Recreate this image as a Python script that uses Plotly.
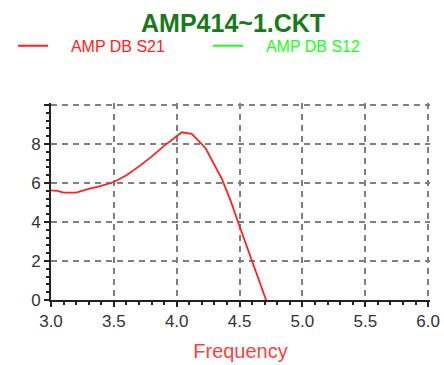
import plotly.graph_objects as go

# S21 gain (dB) vs frequency (GHz)
freq = [3.0, 3.05, 3.1, 3.2, 3.3, 3.4, 3.5, 3.6, 3.7, 3.8, 3.9, 4.0, 4.04, 4.12, 4.23, 4.36, 4.43, 4.5, 4.59, 4.72, 4.8]
s21 = [5.62, 5.6, 5.5, 5.5, 5.7, 5.85, 6.05, 6.4, 6.85, 7.35, 7.9, 8.4, 8.6, 8.52, 7.78, 6.2, 5.07, 3.78, 2.24, 0.0, -1.6]
# S12 lies below the displayed range (not visible in the plot)
freq_s12 = [None]
s12 = [None]

x_ticks = [3.0, 3.5, 4.0, 4.5, 5.0, 5.5, 6.0]
x_labels = ["3.0", "3.5", "4.0", "4.5", "5.0", "5.5", "6.0"]
y_ticks = [0, 2, 4, 6, 8, 10]
y_labels = ["0", "2", "4", "6", "8", ""]

fig = go.Figure()
fig.add_trace(go.Scatter(
    x=freq, y=s21, mode="lines",
    name="<span style='color:#ff2020'>&nbsp;&nbsp;&nbsp;&nbsp;AMP DB S21</span>",
    line=dict(color="#ff2020", width=1.8)))
fig.add_trace(go.Scatter(
    x=freq_s12, y=s12, mode="lines",
    name="<span style='color:#20ff20'>&nbsp;&nbsp;&nbsp;&nbsp;AMP DB S12</span>",
    line=dict(color="#20ff20", width=1.8)))

fig.update_layout(
    width=444, height=365,
    margin=dict(l=51, r=14, t=103, b=65),
    paper_bgcolor="white", plot_bgcolor="white",
    font=dict(family="Arial, Liberation Sans, sans-serif", size=17, color="#333333"),
    title=dict(text="<b>AMP414~1.CKT</b>", x=0.525, xanchor="center", y=0.937, yanchor="middle",
               font=dict(size=25, color="#1a7a1a")),
    showlegend=True,
    legend=dict(orientation="h", x=-0.1, xanchor="left", y=1.29, yanchor="middle",
                font=dict(size=16), entrywidth=150, entrywidthmode="pixels",
                bgcolor="rgba(0,0,0,0)", itemclick=False),
    xaxis=dict(range=[3.0, 6.015], tickvals=x_ticks, ticktext=x_labels, automargin=False,
               showline=True, linecolor="#222222", linewidth=2,
               ticks="outside", ticklen=5, tickcolor="#222222", tickwidth=1.5,
               showgrid=True, gridcolor="#808080", griddash="6px,5px", gridwidth=1.5,
               zeroline=False,
               minor=dict(dtick=0.1, ticks="outside", ticklen=3, tickcolor="#222222", showgrid=False),
               title=dict(text="Frequency", font=dict(size=20, color="#ff4040"), standoff=14)),
    yaxis=dict(range=[0, 10.1], tickvals=y_ticks, ticktext=y_labels, automargin=False,
               showline=True, linecolor="#222222", linewidth=2,
               ticks="outside", ticklen=5, tickcolor="#222222", tickwidth=1.5,
               showgrid=True, gridcolor="#808080", griddash="6px,5px", gridwidth=1.5,
               zeroline=False,
               minor=dict(dtick=0.4, ticks="outside", ticklen=3, tickcolor="#222222", showgrid=False)),
)

fig.write_html("out.html")
